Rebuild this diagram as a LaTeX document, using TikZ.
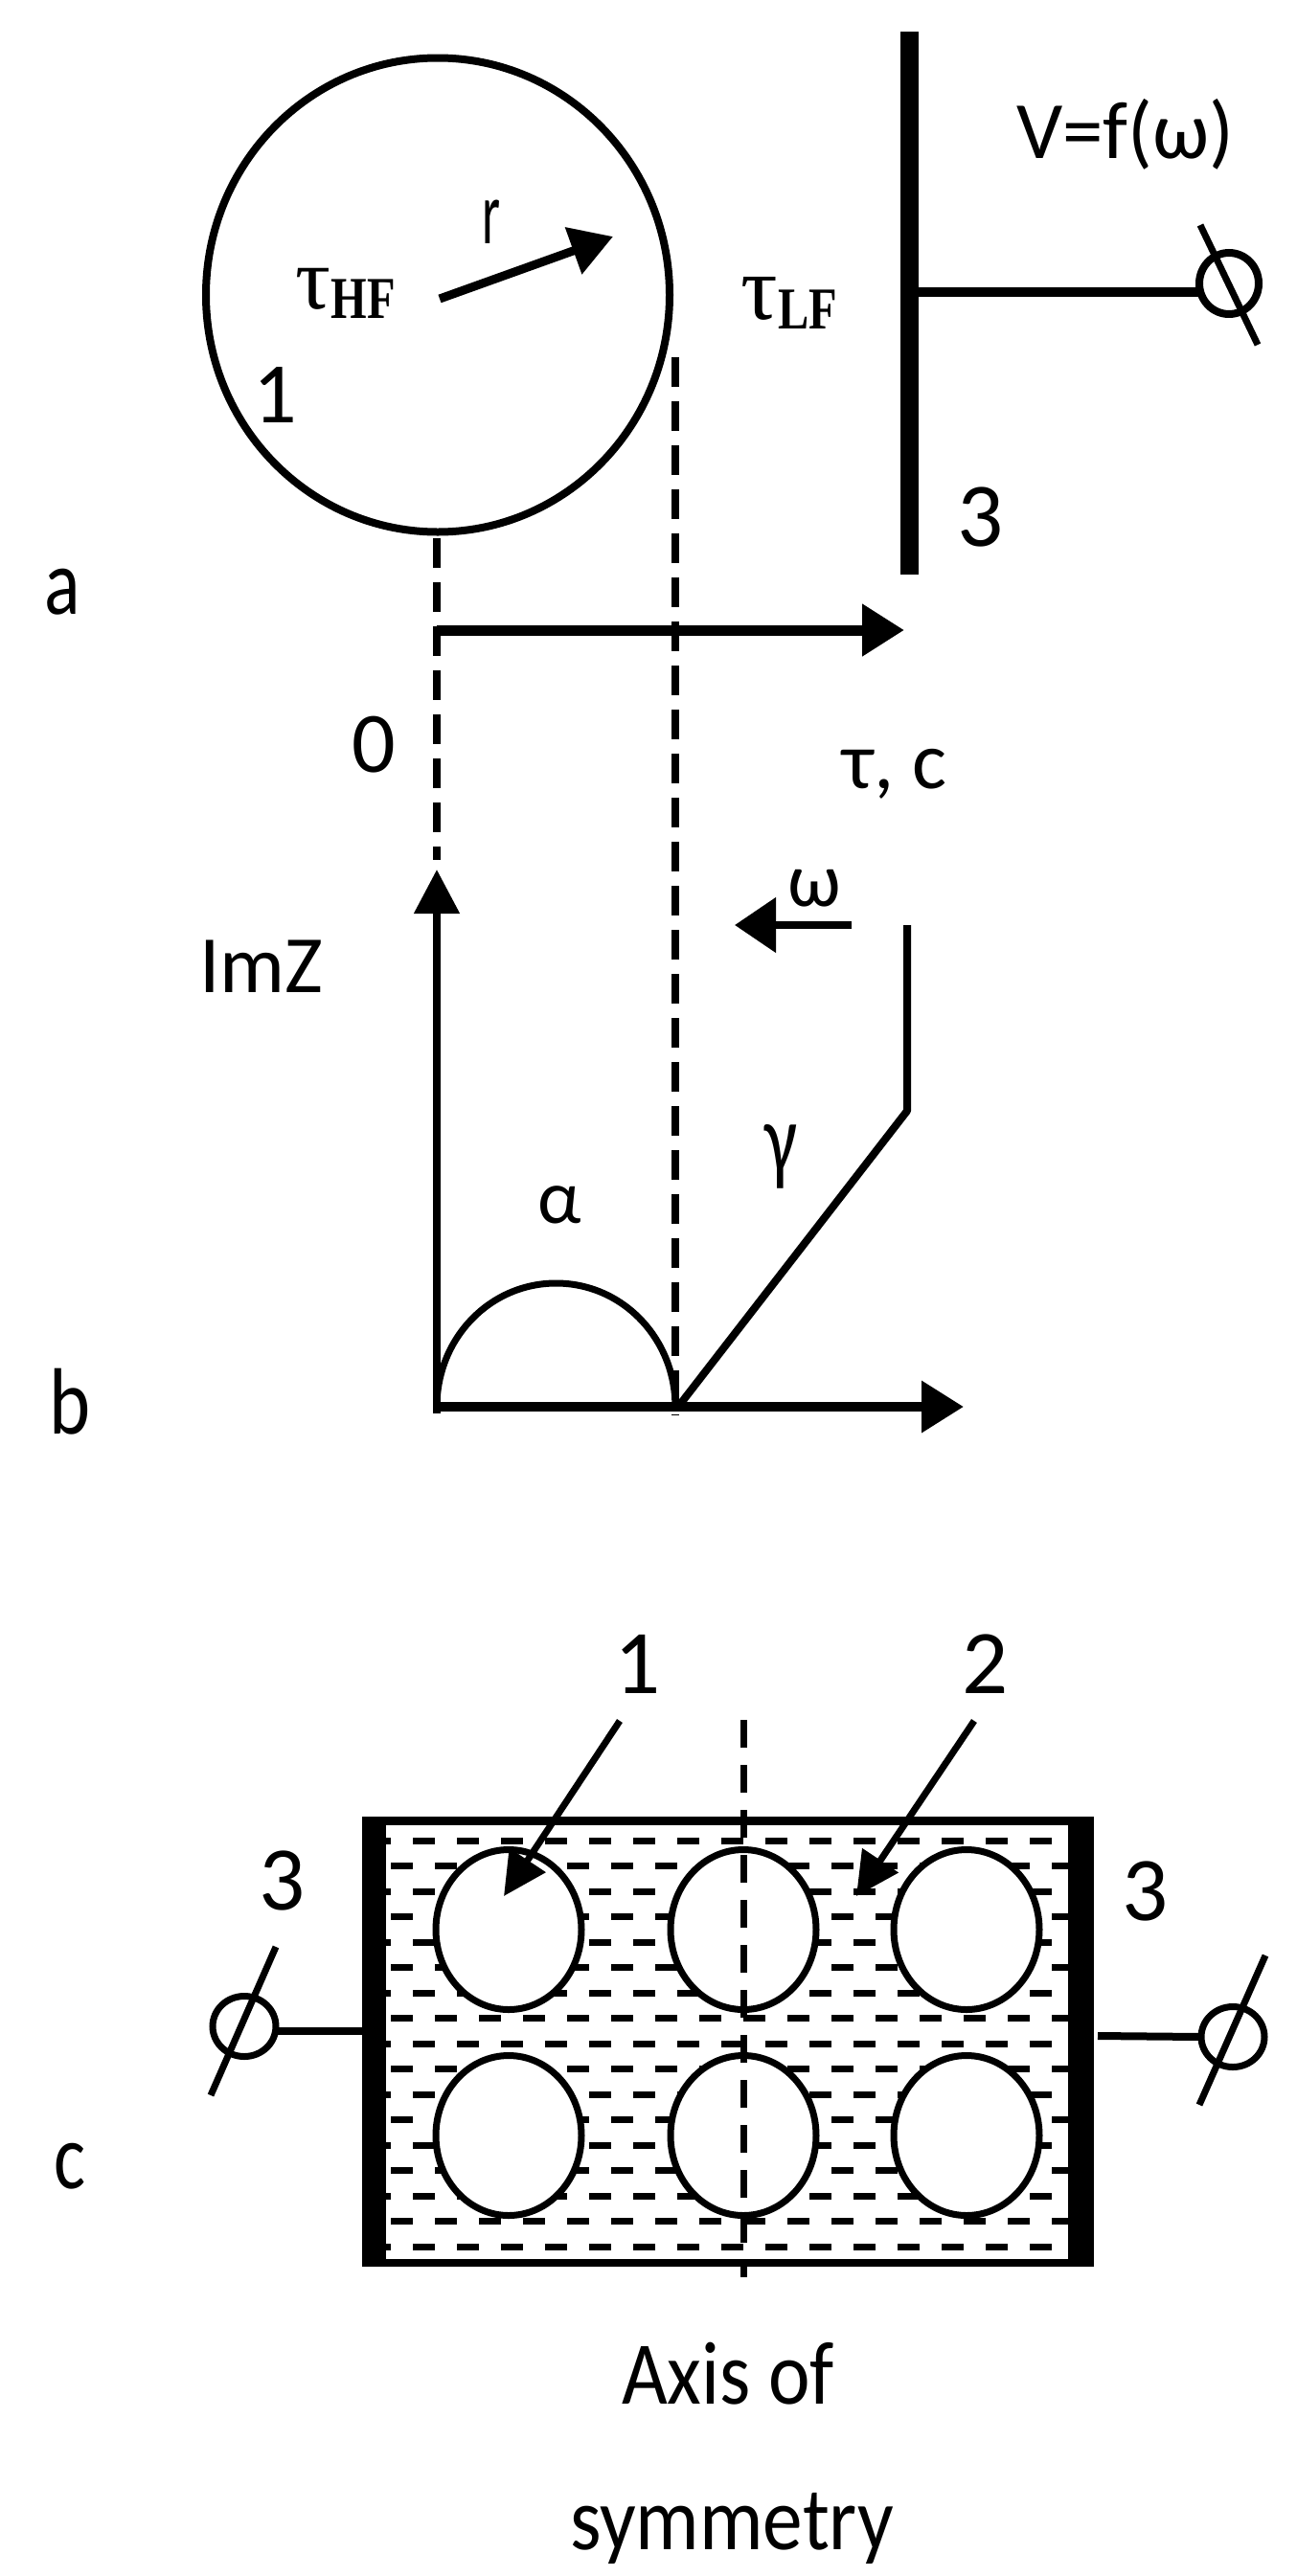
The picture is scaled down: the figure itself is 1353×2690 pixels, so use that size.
\documentclass[tikz,border=0pt]{standalone}
\usepackage{fontspec}
\setmainfont{Carlito}
\newfontfamily\serifgr{Liberation Serif}
\usetikzlibrary{arrows.meta,shapes.geometric}
\tikzset{
  x=1pt,y=-1pt,
  every node/.style={inner sep=0pt,outer sep=0pt,text=black},
  lbl/.style={font=\fontsize{#1}{#1}\selectfont},
  ring/.style={draw=black,fill=white,ellipse,line width=#1},
  wire/.style={draw=black,line width=#1},
  dashv/.style={draw=black,line width=8pt,dash pattern=on 31pt off 15pt},
  fluid/.style={draw=black,line width=7pt,dash pattern=on 23pt off 23pt,dash phase=#1},
  bigtip/.style={-{Triangle[length=44pt,width=52pt]}},
  sidetip/.style={-{Triangle[length=45pt,width=44pt]}},
}
\newcommand{\tausub}[2]{{\serifgr\fontsize{#2}{#2}\selectfont τ}\raisebox{-10pt}{\scalebox{0.78}[1]{\serifgr\bfseries\fontsize{62}{62}\selectfont #1}}}
\begin{document}
\begin{tikzpicture}
\useasboundingbox[fill=white] (0,0) rectangle (1353,2690);
% ---------- panel a
\node[ring=8pt,minimum width=484pt,minimum height=495pt] (big) at (457,308) {};
\coordinate (rs) at (459,312); \coordinate (re) at (640,247);
\draw[wire=9pt,-{Triangle[length=44pt,width=50pt]}] (rs) -- (re);
\coordinate (barT) at (949,33); \coordinate (barB) at (949,600);
\draw[wire=19pt] (barT) -- (barB);
\coordinate (barM) at (949,305);
\node[ring=8pt,minimum width=62pt,minimum height=64pt] (tA) at (1283,296) {};
\draw[wire=10pt] (barM) -- (1251,305) coordinate (tAw);
\coordinate (sA1) at (1253,235); \coordinate (sA2) at (1313,360);
\draw[wire=7pt] (sA1) -- (sA2);
% projection lines and axes
\coordinate (d1s) at (456,562); \coordinate (d1e) at (456,898);
\coordinate (d2s) at (705,373); \coordinate (d2e) at (705,1478);
\draw[dashv] (d1s) -- (d1e);
\draw[dashv] (d2s) -- (d2e);
\coordinate (tc0) at (456,658); \coordinate (tc1) at (944,658);
\draw[wire=11pt,bigtip] (tc0) -- (tc1);
% ---------- panel b
\coordinate (O) at (456,1476); \coordinate (Yt) at (456,908);
\draw[wire=8pt,{Triangle[length=46pt,width=46pt]}-] (Yt) -- (O);
\coordinate (Ob) at (456,1469); \coordinate (Xt) at (1006,1469);
\draw[wire=10pt,bigtip] (Ob) -- (Xt);
\coordinate (om0) at (889,966); \coordinate (om1) at (767,966);
\draw[wire=8pt,-{Triangle[length=43pt,width=56pt]}] (om0) -- (om1);
\coordinate (c1) at (947,966); \coordinate (c2) at (947,1160); \coordinate (c3) at (708,1469);
\draw[wire=8pt,line join=round] (c1) -- (c2) -- (c3);
\coordinate (arcL) at (456,1469); \coordinate (arcT) at (580.5,1340); \coordinate (arcR) at (705,1469);
\draw[wire=7pt] (arcL) .. controls (456,1398) and (511,1340) .. (arcT) .. controls (650,1340) and (705,1398) .. (arcR);
% ---------- panel c
\fill[black] (378,1897) rectangle (1142,2367);
\fill[white] (403,1906) rectangle (1115,2359);
\foreach \k in {0,2,...,16}{
  \path[fluid=18pt,draw] ({403},{1922+26.5*\k}) -- ({1115},{1922+26.5*\k});
}
\foreach \k in {1,3,...,15}{
  \path[fluid=41pt,draw] ({403},{1922+26.5*\k}) -- ({1115},{1922+26.5*\k});
}
\fill[black] (378,1897) rectangle (403,2367);
\fill[black] (1115,1897) rectangle (1142,2367);
\foreach \n/\cx/\cy in {p1/531/2015,p2/776/2015,p3/1009/2015,p4/531/2230,p5/776/2230,p6/1009/2230}{
  \node[ring=7pt,minimum width=152pt,minimum height=167pt] (\n) at (\cx,\cy) {};
}
\coordinate (ax1) at (776,1796); \coordinate (ax2) at (776,2378);
\draw[wire=7pt,dash pattern=on 29pt off 18pt] (ax1) -- (ax2);
\coordinate (a1s) at (647,1797); \coordinate (a1e) at (526,1980);
\draw[wire=7pt,sidetip] (a1s) -- (a1e);
\coordinate (a2s) at (1017,1797); \coordinate (a2e) at (894,1980);
\draw[wire=7pt,sidetip] (a2s) -- (a2e);
\node[ring=7pt,minimum width=66pt,minimum height=63pt] (tL) at (255,2116) {};
\coordinate (cellL) at (378,2121);
\draw[wire=8pt] (tL.east |- cellL) -- (cellL);
\coordinate (sL1) at (288,2033); \coordinate (sL2) at (220,2188);
\draw[wire=7pt] (sL1) -- (sL2);
\node[ring=7pt,minimum width=66pt,minimum height=63pt] (tR) at (1287,2127) {};
\coordinate (cellR) at (1146,2126);
\draw[wire=8pt] (cellR) -- (tR.west);
\coordinate (sR1) at (1321,2042); \coordinate (sR2) at (1252,2198);
\draw[wire=7pt] (sR1) -- (sR2);
% ---------- labels
\node[lbl=78] (la) at (65,618) {\scalebox{1}[1.25]{a}};
\node[lbl=82] (lb) at (73,1464) {\scalebox{1}[1.2]{b}};
\node[lbl=78] (lc) at (73,2262) {\scalebox{1}[1.25]{c}};
\node (tHF) at (361,306) {\tausub{HF}{92}};
\node (tLF) at (824,316) {\tausub{LF}{96}};
\node[lbl=78] (lr) at (513,232) {\scalebox{0.7}[1.2]{r}};
\node[lbl=90] (l1) at (287,413) {1};
\node[lbl=85] (lV) at (1175,140) {V=f(ω)};
\node[lbl=95] (l3a) at (1024,540) {3};
\node[lbl=90] (l0) at (390,778) {0};
\node[lbl=85] (ltc) at (934,808) {τ, c};
\node[lbl=85] (lIm) at (273,1009) {ImZ};
\node[lbl=80] (lw) at (850,928) {ω};
\node[lbl=80] (lg) at (815,1208) {\scalebox{0.95}[1.3]{γ}};
\node[lbl=80] (lal) at (584,1258) {α};
\node[lbl=95] (c1l) at (666,1738) {1};
\node[lbl=95] (c2l) at (1029,1738) {2};
\node[lbl=95] (c3l) at (295,1964) {3};
\node[lbl=95] (c3r) at (1196,1975) {3};
\node[lbl=85] (ax) at (760,2479) {\scalebox{0.97}[1.1]{Axis of}};
\node[lbl=85] (sy) at (764,2640) {\scalebox{0.98}[1.1]{symmetry}};
\end{tikzpicture}
\end{document}
